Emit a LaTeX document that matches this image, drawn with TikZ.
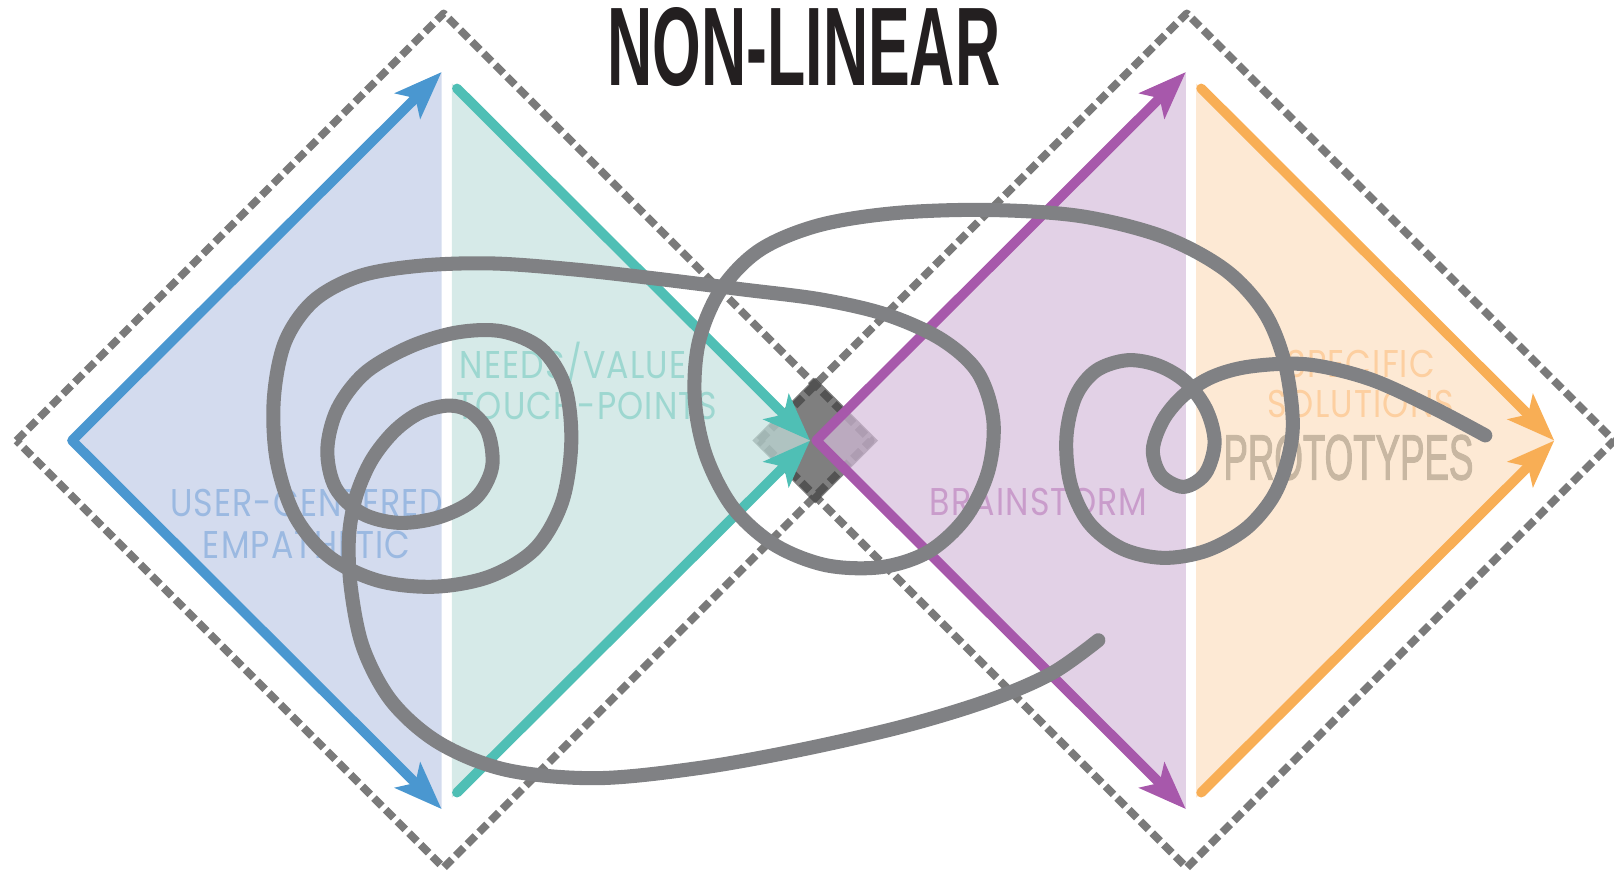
\documentclass[tikz,border=0pt]{standalone}
\usepackage{fontspec}
\setmainfont{Liberation Sans}
\newfontfamily\condfont{Liberation Sans}[FakeStretch=0.56]
\newfontfamily\protofont{Liberation Sans}[FakeStretch=0.57, FakeBold=1.5]
\newfontfamily\lblfont{Poppins}[FakeStretch=0.86, LetterSpace=3]
\usetikzlibrary{arrows.meta,positioning,calc}

\definecolor{blueLn}{HTML}{4A97D0}
\definecolor{blueFl}{HTML}{C0CCE7}
\definecolor{blueTx}{HTML}{9BB9E1}
\definecolor{tealLn}{HTML}{4FBFB5}
\definecolor{tealFl}{HTML}{C4E1DE}
\definecolor{tealTx}{HTML}{9DD7D0}
\definecolor{purpleLn}{HTML}{A758AB}
\definecolor{purpleFl}{HTML}{D6BDDB}
\definecolor{purpleTx}{HTML}{C99CCB}
\definecolor{orangeLn}{HTML}{F8AE55}
\definecolor{orangeFl}{HTML}{FCE0C2}
\definecolor{orangeTx}{HTML}{FDCFA0}
\definecolor{protoTx}{HTML}{C8B7A2}
\definecolor{dashGray}{HTML}{7A7A7A}
\definecolor{coreGray}{HTML}{404040}
\definecolor{loopGray}{HTML}{808184}
\definecolor{titleInk}{HTML}{231F20}

\tikzstyle{dashdia} = [draw=dashGray, line width=2.2pt,
  dash pattern=on 3.2pt off 1.5pt, line join=round]
\tikzstyle{core} = [fill=coreGray, fill opacity=0.67]
\tikzstyle{zone} = [fill opacity=0.7]
\tikzstyle{flow} = [line width=2.8pt, line cap=round, line join=round]
\tikzstyle{lbl} = [font=\lblfont\fontsize{11}{12}\selectfont, inner sep=0pt]
\tikzstyle{head} = [font=\condfont\bfseries\fontsize{31.8}{32}\selectfont,
  inner sep=0pt, text=titleInk]
\tikzstyle{proto} = [font=\protofont\fontsize{18.3}{19}\selectfont,
  inner sep=0pt, text=protoTx]
\tikzstyle{squiggle} = [draw=loopGray, line width=4pt, line cap=round, line join=round]

\begin{document}
\begin{tikzpicture}[x=0.10293mm, y=-0.10293mm,
  >={Stealth[length=13.5pt, width=10pt, inset=3pt]}]
\useasboundingbox (0,0) rectangle (1568,849);

% ==========================================
% DASHED DIAMONDS + OVERLAP
% ==========================================
\coordinate (lc) at (431,428);
\coordinate (rc) at (1153,428);
\foreach \c in {lc,rc}
  { \draw[dashdia] ($(\c)+(-415,0)$) -- ($(\c)+(0,-415)$) -- ($(\c)+(415,0)$)
      -- ($(\c)+(0,415)$) -- cycle; }
\fill[core] (792,367) -- (853,428) -- (792,489) -- (731,428) -- cycle;

% ==========================================
% COLOURED HALVES (diverge / converge)
% ==========================================
\foreach \dx/\ca/\cb in {0/blue/teal, 723/purple/orange}
{
  \begin{scope}[shift={(\dx,0)}]
    \fill[zone, fill=\ca Fl] (70,428) -- (429,70) -- (429,786) -- cycle;
    \fill[zone, fill=\cb Fl] (439,81) -- (787,428) -- (439,775) -- cycle;
    \draw[flow, draw=\ca Ln, <->] (429,70) -- (70,428) -- (429,786);
    \draw[flow, draw=\cb Ln, ->] (444,86) -- (787,428);
    \draw[flow, draw=\cb Ln, ->] (444,770) -- (787,428);
  \end{scope}
}

% ==========================================
% LABELS
% ==========================================
\node[head, anchor=base] (title) at (781,83) {NON-LINEAR};
\node[lbl, text=blueTx, anchor=base] (ucen) at (298,502) {USER-CENTERED};
\node[lbl, text=blueTx, anchor=base] (empa) at (298,543) {EMPATHETIC};
\node[lbl, text=tealTx, anchor=base west] (needs) at (446,368) {NEEDS/VALUE};
\node[lbl, text=tealTx, anchor=base west] (touch) at (443,408) {TOUCH-POINTS};
\node[lbl, text=purpleTx, anchor=base] (brain) at (1009,501) {BRAINSTORM};
\node[lbl, text=orangeTx, anchor=base] (spec) at (1322,367) {SPECIFIC};
\node[lbl, text=orangeTx, anchor=base] (solu) at (1322,406) {SOLUTIONS};
\node[proto, anchor=base] (protos) at (1310,466) {PROTOTYPES};

% ==========================================
% THE SQUIGGLE
% ==========================================
\draw[squiggle] plot[smooth, tension=0.55] coordinates {
  (1443,423) (1390,395) (1330,368) (1270,354) (1215,356) (1178,366)
  (1150,384) (1130,408) (1120,437) (1128,462) (1150,473) (1171,460)
  (1180,430) (1172,398) (1152,371) (1125,355) (1095,350) (1065,360)
  (1045,385) (1036,425) (1040,470) (1058,508) (1090,533) (1130,542)
  (1172,535) (1210,514) (1236,484) (1250,450) (1256,410) (1248,352)
  (1228,303) (1190,262) (1130,230) (1050,210) (960,204) (870,207)
  (795,219) (738,243) (700,282) (679,332) (675,388) (686,443)
  (712,493) (752,529) (802,549) (856,551) (902,536) (938,503)
  (960,458) (965,408) (950,362) (915,330) (862,306) (798,291)
  (720,281) (640,271) (560,262) (480,256) (410,258) (350,268)
  (305,292) (277,332) (266,388) (269,448) (287,502) (320,541)
  (367,564) (422,570) (476,560) (520,533) (546,488) (555,430)
  (549,376) (526,339) (488,322) (444,323) (398,337) (355,362)
  (328,397) (318,437) (326,474) (352,499) (388,508) (428,502)
  (462,484) (478,454) (474,420) (457,400) (436,394) (408,401)
  (383,419) (361,447) (346,482) (339,522) (341,572) (353,630)
  (381,682) (427,722) (492,748) (580,756) (680,746) (780,728)
  (880,705) (962,680) (1022,654) (1067,622)};

\end{tikzpicture}
\end{document}
